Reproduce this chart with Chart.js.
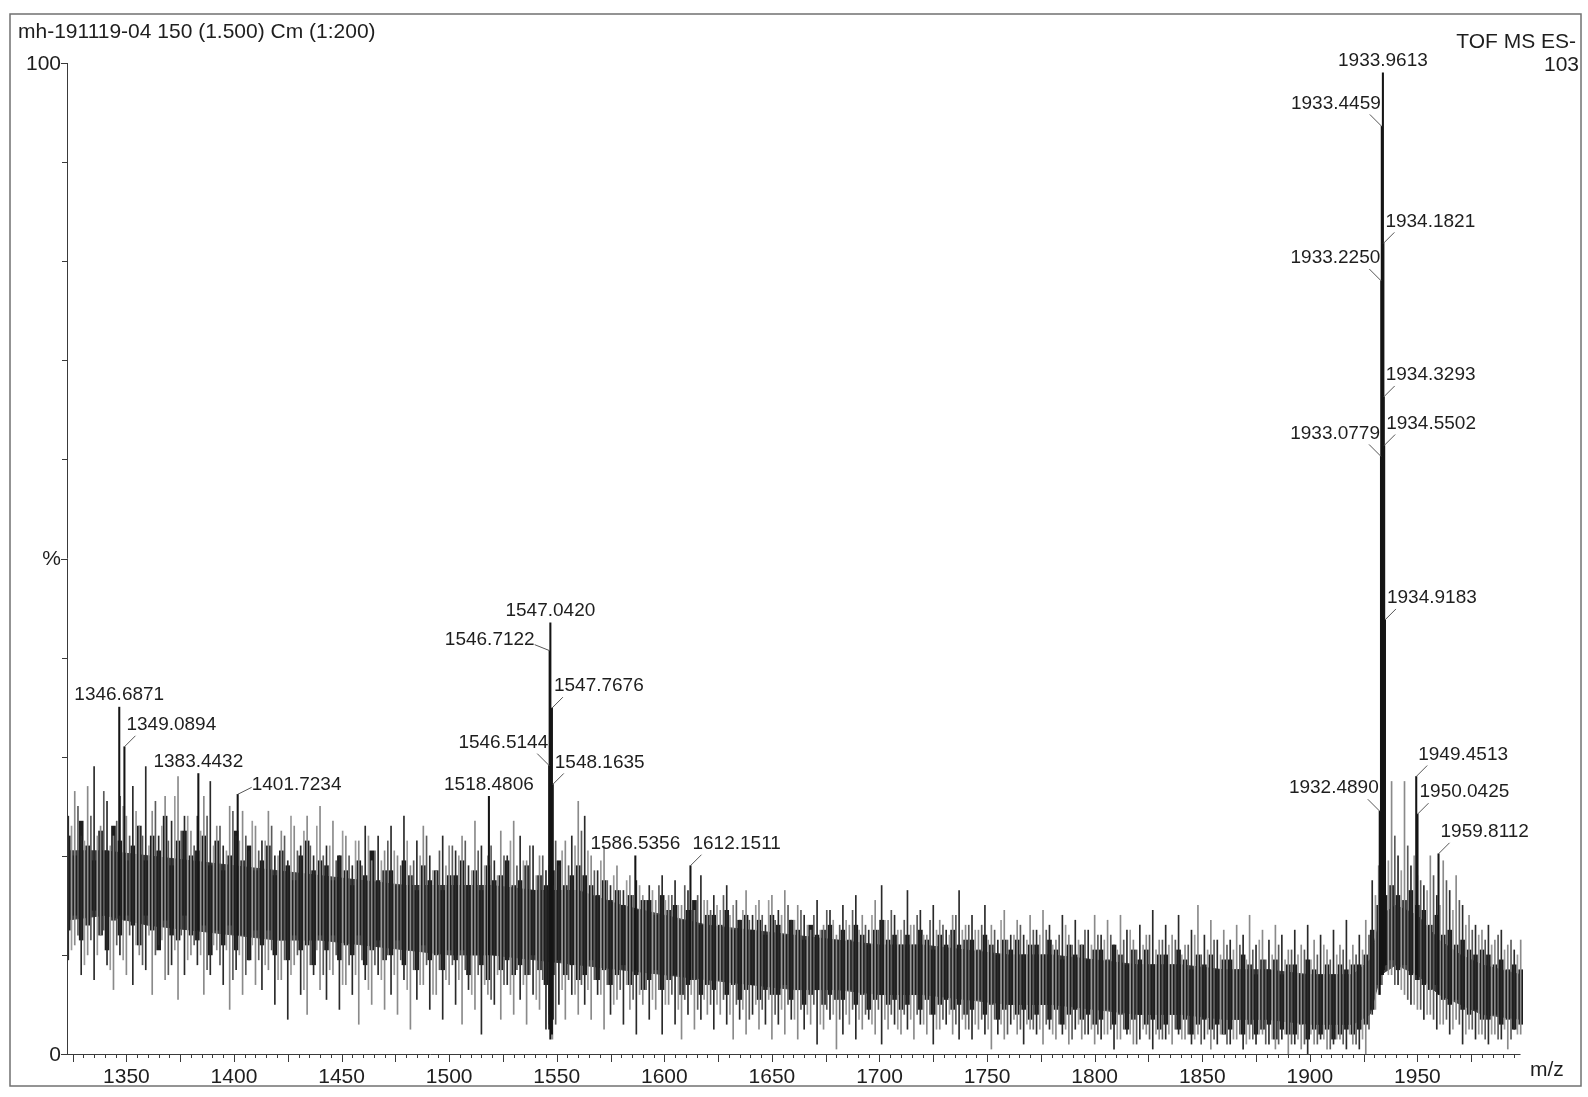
<!DOCTYPE html>
<html>
<head>
<meta charset="utf-8">
<title>mh-191119-04 150 (1.500) Cm (1:200)</title>
<script src="https://cdn.jsdelivr.net/npm/chart.js@4.4.1/dist/chart.umd.min.js"></script>
<style>
    html, body { margin: 0; padding: 0; background: #ffffff; }
    #spectrum { display: block; }
</style>
</head>
<body>
<canvas id="spectrum" width="1588" height="1097"></canvas>
<script>
/* Spectrum data: m/z and relative intensity (%) */

// labelled peaks (top of the trace, and the valley the trace rises from)
let peakMz = [1346.6871, 1349.0894, 1383.4432, 1401.7234, 1518.4806, 1546.5144, 1546.7122, 1547.0420,
    1547.7676, 1548.1635, 1586.5356, 1612.1511, 1932.4890, 1933.0779, 1933.2250, 1933.4459,
    1933.9613, 1934.1821, 1934.3293, 1934.5502, 1934.9183, 1949.4513, 1950.0425, 1959.8112]
let peakPct = [35.0, 31.0, 28.3, 26.2, 26.0, 29.1, 40.7, 43.5,
    34.9, 27.2, 20.0, 19.0, 24.5, 60.3, 78.0, 93.6,
    99.0, 81.8, 66.3, 61.4, 43.8, 28.0, 24.2, 20.2]
let peakBase = [14, 13.5, 12.5, 12, 10, 2.5, 3, 1.5,
    2, 3.5, 8.5, 7.5, 6, 8, 8, 8,
    8, 8.5, 8.5, 9, 9, 8, 7.5, 6]

// noise trace lines: low and high end of each line
let noiseMz = [
    1323, 1326, 1329, 1332, 1335, 1338, 1341, 1344, 1347, 1350,
    1353, 1356, 1359, 1362, 1365, 1368, 1371, 1374, 1377, 1380,
    1383, 1386, 1389, 1392, 1395, 1398, 1401, 1404, 1407, 1410,
    1413, 1416, 1419, 1422, 1425, 1428, 1431, 1434, 1437, 1440,
    1443, 1446, 1449, 1452, 1455, 1458, 1461, 1464, 1467, 1470,
    1473, 1476, 1479, 1482, 1485, 1488, 1491, 1494, 1497, 1500,
    1503, 1506, 1509, 1512, 1515, 1518, 1521, 1524, 1527, 1530,
    1533, 1536, 1539, 1542, 1545, 1548, 1551, 1554, 1557, 1560,
    1563, 1566, 1569, 1572, 1575, 1578, 1581, 1584, 1587, 1590,
    1593, 1596, 1599, 1602, 1605, 1608, 1611, 1614, 1617, 1620,
    1623, 1626, 1629, 1632, 1635, 1638, 1641, 1644, 1647, 1650,
    1653, 1656, 1659, 1662, 1665, 1668, 1671, 1674, 1677, 1680,
    1683, 1686, 1689, 1692, 1695, 1698, 1701, 1704, 1707, 1710,
    1713, 1716, 1719, 1722, 1725, 1728, 1731, 1734, 1737, 1740,
    1743, 1746, 1749, 1752, 1755, 1758, 1761, 1764, 1767, 1770,
    1773, 1776, 1779, 1782, 1785, 1788, 1791, 1794, 1797, 1800,
    1803, 1806, 1809, 1812, 1815, 1818, 1821, 1824, 1827, 1830,
    1833, 1836, 1839, 1842, 1845, 1848, 1851, 1854, 1857, 1860,
    1863, 1866, 1869, 1872, 1875, 1878, 1881, 1884, 1887, 1890,
    1893, 1896, 1899, 1902, 1905, 1908, 1911, 1914, 1917, 1920,
    1923, 1926, 1929, 1932, 1935, 1938, 1941, 1944, 1947, 1950,
    1953, 1956, 1959, 1962, 1965, 1968, 1971, 1974, 1977, 1980,
    1983, 1986, 1989, 1992, 1995, 1998]
let noiseHigh = [
    24, 26.5, 22, 27, 29, 23, 25.5, 22, 26, 24,
    27, 23, 29, 24.5, 22, 26, 23.5, 28, 24, 22.5,
    24, 26, 27.5, 23, 21, 25, 22, 24.5, 20.5, 23,
    21.5, 24.5, 20, 22.5, 19.5, 23, 21, 24, 20, 25,
    21, 23.5, 20, 22, 19, 21.5, 23, 19.5, 22, 20.5,
    23, 20, 24, 19, 21.5, 23, 20, 18.5, 22, 21,
    20.5, 22, 19, 23.5, 21, 20, 19.5, 22.5, 20, 23.5,
    22, 19.5, 21, 20, 18.5, 17, 19, 21.5, 22, 25.5,
    24, 20, 18.5, 21, 17, 19, 16.5, 18, 17.5, 16,
    17, 15.5, 18, 16, 17.5, 15, 16.5, 14.5, 18, 15.5,
    16, 14.5, 17, 15, 13.5, 16.5, 14, 15.5, 13, 16,
    14.5, 16.5, 13.5, 15, 14, 12.5, 15.5, 13, 14.5, 12,
    15, 13, 16, 14, 12.5, 15.5, 17, 13.5, 14, 12.5,
    16.5, 13, 14.5, 12, 15, 13.5, 12.5, 14, 16.5, 13,
    14, 12.5, 15, 13, 11.5, 14.5, 12, 13.5, 12, 14,
    12.5, 14.5, 13, 11.5, 14, 12, 13.5, 11, 12.5, 14,
    12, 13.5, 11, 14, 12.5, 11.5, 13, 12, 14.5, 11.5,
    13, 12, 14, 11, 12.5, 15, 12, 13.5, 11.5, 12.5,
    11.5, 13, 12, 14, 11, 12.5, 11.5, 13, 12, 10.5,
    12.5, 11, 13, 11.5, 12, 10.5, 12.5, 11, 13.5, 11,
    12, 13.5, 17.5, 19, 20, 27.5, 20, 27.5, 19, 18,
    17, 20, 16, 19.5, 16.5, 18, 15, 14, 13, 12.5,
    13, 11.5, 12.5, 11, 10.5, 11.5]
let noiseLow = [
    9.5, 11, 8, 10, 7.5, 12, 9, 6.5, 10, 8,
    7, 10, 8.5, 6, 11, 7.5, 9, 5.5, 8, 10,
    9, 6, 8, 10.5, 7, 4.5, 8.5, 6, 9.5, 7,
    6.5, 8.5, 5, 7.5, 3.5, 9, 6, 4, 8, 6.5,
    5.5, 8, 4.5, 7, 6, 3, 7.5, 5, 8, 4.5,
    6, 4, 7.5, 2.5, 5.5, 7, 4.5, 6, 3.5, 7,
    5, 3, 6.5, 4.5, 2, 6, 5, 3.5, 7, 4,
    5.5, 3, 6, 4.5, 2.5, 1.5, 5, 3.5, 6, 4,
    5, 3.5, 6, 2.5, 4, 5.5, 3, 4.5, 2, 5,
    3.5, 4.5, 2, 5, 3, 1.5, 4, 2.5, 3.5, 4,
    2.5, 4, 3, 1.5, 3.5, 2, 4, 2.5, 3, 1.5,
    3, 2, 3.5, 1.5, 2.5, 3, 1, 2.5, 3.5, 0.5,
    2, 3, 1.5, 2.5, 3.5, 2, 1, 2.5, 3, 2,
    2.5, 1.5, 3, 2, 1, 2.5, 3, 2, 1.5, 2.5,
    1.5, 2.5, 2, 0.5, 2, 1.5, 3, 2, 1, 2.5,
    2, 1, 2.5, 1.5, 2, 1, 2.5, 1.5, 2, 1,
    1.5, 2, 0.5, 1.5, 2, 1, 1.5, 2, 0.5, 1.5,
    1.5, 1, 2, 1.5, 1, 2, 1.5, 0.5, 1, 2,
    1, 1.5, 0.5, 1.5, 1, 2, 1, 0.5, 1.5, 0,
    1, 0.5, 0, 1, 1.5, 0.5, 1, 1.5, 0.5, 1,
    0.5, 0, 4, 6, 9, 8, 7, 6, 5, 4.5,
    3.5, 4, 2.5, 3, 2, 3.5, 1, 2.5, 1.5, 2,
    1, 2, 1.5, 0.5, 2.5, 2]

// dense part of the trace round each noise line
let denseHigh = [
    22, 20, 23.5, 21, 19.5, 22.5, 20.5, 23, 21.5, 19.5,
    21, 23, 19.5, 22, 20.5, 24, 19, 21.5, 22.5, 20,
    20.5, 22, 19, 21.5, 18.5, 20, 22.5, 19.5, 21, 18.5,
    19.5, 21, 18, 20.5, 19, 17.5, 20, 21.5, 18.5, 19.5,
    19, 17.5, 20, 18.5, 17, 19.5, 18, 20.5, 17.5, 18.5,
    18.5, 17, 19.5, 18, 16.5, 19, 17.5, 18.5, 16.5, 18,
    18, 19.5, 17, 18.5, 16.5, 19, 17.5, 18, 19.5, 17,
    17.5, 19, 16.5, 18, 17, 18.5, 19.5, 17, 18, 19,
    18, 17, 16, 17.5, 15.5, 16.5, 15, 16, 14.5, 15.5,
    15.5, 14, 16, 14.5, 15, 13.5, 14.5, 15.5, 13, 14,
    14, 13, 14.5, 12.5, 13.5, 14, 12.5, 13.5, 12, 14,
    13, 12, 13.5, 12.5, 11.5, 13, 12, 12.5, 13, 11.5,
    12.5, 11.5, 13, 12, 11, 12.5, 13.5, 11.5, 12, 11,
    12, 11, 12.5, 11.5, 10.5, 12, 11, 12.5, 11, 11.5,
    11.5, 10.5, 12, 11, 10, 11.5, 10.5, 11.5, 10, 11,
    11, 10, 11.5, 10.5, 9.5, 11, 10, 11, 9.5, 10.5,
    10.5, 9.5, 11, 10, 9, 10.5, 9.5, 10.5, 9, 10,
    10, 9, 10.5, 9.5, 8.5, 10, 9, 10, 8.5, 9.5,
    9.5, 8.5, 10, 9, 8, 9.5, 8.5, 9.5, 8, 9,
    9, 8, 9.5, 8.5, 8, 9, 8, 9, 8.5, 9,
    9, 10, 12.5, 15, 16, 17, 16, 15.5, 16.5, 15,
    14.5, 13, 14, 12, 12.5, 11, 11.5, 10.5, 10, 10.5,
    10, 9, 9.5, 8.5, 9, 8.5]
let denseLow = [
    12.5, 14, 11.5, 13, 14.5, 12, 10.5, 13.5, 12, 14,
    13, 11, 14, 12.5, 10.5, 13.5, 12, 11.5, 14, 12,
    11.5, 13, 10, 12.5, 11, 13, 10.5, 12, 9.5, 12.5,
    11, 12.5, 10, 11.5, 9.5, 12, 10.5, 11, 9, 12,
    10.5, 12, 9.5, 11, 10, 12, 9, 10.5, 11.5, 9.5,
    10, 11.5, 9, 10.5, 8.5, 11, 9.5, 10, 8.5, 10.5,
    9.5, 10.5, 8, 10, 9, 7.5, 10, 8.5, 9.5, 8,
    9, 8, 10, 8.5, 7, 8, 9.5, 8, 9, 7.5,
    8, 9.5, 7.5, 8.5, 7, 8, 9, 7, 8, 6.5,
    7.5, 8.5, 6.5, 7.5, 8, 6, 7, 7.5, 6, 7,
    6.5, 7.5, 6, 7, 5.5, 6.5, 7, 5.5, 6.5, 6,
    6, 7, 5.5, 6.5, 5, 6, 6.5, 5, 6, 5.5,
    5.5, 6.5, 5, 6, 4.5, 5.5, 6, 5, 5.5, 4.5,
    5, 6, 4.5, 5.5, 4, 5, 5.5, 4.5, 5, 4,
    4.5, 5.5, 4, 5, 3.5, 4.5, 5, 4, 4.5, 3.5,
    4, 5, 3.5, 4.5, 3, 4, 4.5, 3.5, 4, 3,
    3.5, 4.5, 3, 4, 2.5, 3.5, 4, 3, 3.5, 2.5,
    3, 4, 2.5, 3.5, 2, 3, 3.5, 2.5, 3, 2,
    2.5, 3.5, 2, 3, 2, 2.5, 3, 1.5, 2.5, 2,
    2, 3, 1.5, 2.5, 2, 2.5, 1.5, 2, 2.5, 2,
    2.5, 3, 4.5, 7, 9, 9.5, 8.5, 9, 8, 7.5,
    7, 6.5, 7, 5.5, 5, 5.5, 4.5, 4, 4.5, 3.5,
    3.5, 4, 3, 3.5, 2.5, 3]

// trace lines lying between the noise lines above
let midMz = [
    1324.5, 1327.5, 1330.5, 1333.5, 1336.5, 1339.5, 1342.5, 1345.5, 1348.5, 1351.5,
    1354.5, 1357.5, 1360.5, 1363.5, 1366.5, 1369.5, 1372.5, 1375.5, 1378.5, 1381.5,
    1384.5, 1387.5, 1390.5, 1393.5, 1396.5, 1399.5, 1402.5, 1405.5, 1408.5, 1411.5,
    1414.5, 1417.5, 1420.5, 1423.5, 1426.5, 1429.5, 1432.5, 1435.5, 1438.5, 1441.5,
    1444.5, 1447.5, 1450.5, 1453.5, 1456.5, 1459.5, 1462.5, 1465.5, 1468.5, 1471.5,
    1474.5, 1477.5, 1480.5, 1483.5, 1486.5, 1489.5, 1492.5, 1495.5, 1498.5, 1501.5,
    1504.5, 1507.5, 1510.5, 1513.5, 1516.5, 1519.5, 1522.5, 1525.5, 1528.5, 1531.5,
    1534.5, 1537.5, 1540.5, 1543.5, 1546.5, 1549.5, 1552.5, 1555.5, 1558.5, 1561.5,
    1564.5, 1567.5, 1570.5, 1573.5, 1576.5, 1579.5, 1582.5, 1585.5, 1588.5, 1591.5,
    1594.5, 1597.5, 1600.5, 1603.5, 1606.5, 1609.5, 1612.5, 1615.5, 1618.5, 1621.5,
    1624.5, 1627.5, 1630.5, 1633.5, 1636.5, 1639.5, 1642.5, 1645.5, 1648.5, 1651.5,
    1654.5, 1657.5, 1660.5, 1663.5, 1666.5, 1669.5, 1672.5, 1675.5, 1678.5, 1681.5,
    1684.5, 1687.5, 1690.5, 1693.5, 1696.5, 1699.5, 1702.5, 1705.5, 1708.5, 1711.5,
    1714.5, 1717.5, 1720.5, 1723.5, 1726.5, 1729.5, 1732.5, 1735.5, 1738.5, 1741.5,
    1744.5, 1747.5, 1750.5, 1753.5, 1756.5, 1759.5, 1762.5, 1765.5, 1768.5, 1771.5,
    1774.5, 1777.5, 1780.5, 1783.5, 1786.5, 1789.5, 1792.5, 1795.5, 1798.5, 1801.5,
    1804.5, 1807.5, 1810.5, 1813.5, 1816.5, 1819.5, 1822.5, 1825.5, 1828.5, 1831.5,
    1834.5, 1837.5, 1840.5, 1843.5, 1846.5, 1849.5, 1852.5, 1855.5, 1858.5, 1861.5,
    1864.5, 1867.5, 1870.5, 1873.5, 1876.5, 1879.5, 1882.5, 1885.5, 1888.5, 1891.5,
    1894.5, 1897.5, 1900.5, 1903.5, 1906.5, 1909.5, 1912.5, 1915.5, 1918.5, 1921.5,
    1924.5, 1927.5, 1930.5, 1933.5, 1936.5, 1939.5, 1942.5, 1945.5, 1948.5, 1951.5,
    1954.5, 1957.5, 1960.5, 1963.5, 1966.5, 1969.5, 1972.5, 1975.5, 1978.5, 1981.5,
    1984.5, 1987.5, 1990.5, 1993.5, 1996.5]
let midHigh = [
    23, 25, 21.5, 24, 22, 26.5, 21, 23.5, 25, 22,
    24.5, 22, 21, 25.5, 23, 21.5, 26, 22.5, 24, 21,
    22.5, 24, 21, 23, 20.5, 24.5, 21.5, 22, 23.5, 20.5,
    21.5, 23, 20, 22, 24, 20.5, 22.5, 21, 23, 20,
    21, 19.5, 22.5, 20, 21.5, 19, 22, 20.5, 19.5, 21.5,
    20.5, 19, 21.5, 19.5, 20, 22, 18.5, 20.5, 19, 21,
    20, 21.5, 18.5, 20.5, 19, 21, 18, 20, 21.5, 19,
    19.5, 21, 18, 20, 19, 21.5, 20.5, 19, 21, 22.5,
    20.5, 18.5, 19.5, 17.5, 18, 16.5, 17.5, 16, 17, 15.5,
    16.5, 17, 15.5, 16, 15, 17, 14.5, 16, 15.5, 14.5,
    15, 16, 14, 15.5, 14.5, 13.5, 15, 14, 15.5, 13.5,
    14, 15, 13.5, 14.5, 13, 14, 12.5, 14.5, 13.5, 13,
    13.5, 14.5, 12.5, 13, 14, 12.5, 13.5, 14.5, 12.5, 13.5,
    13, 14, 12, 13.5, 12.5, 13, 12, 14, 12.5, 13,
    12.5, 13, 11.5, 12.5, 13.5, 11.5, 12, 13, 11.5, 12.5,
    12, 12.5, 11, 12, 13, 11, 11.5, 12.5, 11, 12,
    11.5, 12, 10.5, 11.5, 12.5, 10.5, 11, 12, 10.5, 11.5,
    11, 11.5, 10, 11, 12, 10, 10.5, 11.5, 10, 11,
    10.5, 11, 9.5, 10.5, 11.5, 9.5, 10, 11, 9.5, 10.5,
    10, 10.5, 9.5, 10, 11, 9.5, 10, 10.5, 9.5, 10,
    10.5, 12, 16, 18, 19.5, 22, 18.5, 21, 20, 17.5,
    16.5, 18, 15, 17.5, 14.5, 15.5, 13, 12.5, 12, 11.5,
    11, 12, 10.5, 11.5, 10]
let midLow = [
    10.5, 12, 9, 11.5, 10, 12.5, 8.5, 11, 9.5, 12,
    11, 9, 12, 10, 11.5, 8, 10.5, 12, 9.5, 11,
    10, 8.5, 11, 9, 10.5, 7.5, 10, 8, 11, 9.5,
    9, 10.5, 7.5, 9.5, 8, 10, 6.5, 9, 10.5, 8,
    8.5, 10, 7, 9, 8, 9.5, 6.5, 9, 7.5, 10,
    8, 9.5, 6.5, 8.5, 7, 9, 6, 8.5, 7.5, 9,
    7.5, 8.5, 6, 8, 7, 5.5, 8, 7, 6, 8.5,
    7, 8, 5.5, 7.5, 4, 3, 6.5, 7.5, 6, 7,
    6.5, 7.5, 6, 7, 5, 6.5, 7, 5.5, 6, 6.5,
    5.5, 6.5, 5, 6, 4.5, 5.5, 6, 4.5, 5.5, 5,
    5, 5.5, 4, 5, 4.5, 3.5, 5, 4.5, 5.5, 4,
    4.5, 5, 3.5, 4.5, 4, 5, 3, 4.5, 4, 3.5,
    4, 4.5, 3.5, 4, 3, 4.5, 3.5, 4, 2.5, 4,
    3.5, 4, 3, 4, 2.5, 3.5, 4, 3, 3.5, 2.5,
    3, 3.5, 2.5, 3.5, 3, 2, 3.5, 2.5, 3, 2.5,
    2.5, 3, 2, 3, 2.5, 1.5, 3, 2, 2.5, 2,
    2, 2.5, 1.5, 2.5, 2, 1, 2.5, 1.5, 2, 1.5,
    2, 2.5, 1.5, 2, 1.5, 1, 2, 1.5, 2, 1,
    1.5, 2, 1, 1.5, 2, 1, 1.5, 1, 2, 1,
    1.5, 1, 2, 1, 1.5, 0.5, 1.5, 1, 2, 1,
    1.5, 2.5, 4.5, 7, 8, 7, 6.5, 5.5, 5, 4.5,
    4, 3.5, 3, 3.5, 2.5, 3, 2, 2.5, 2, 1.5,
    2, 1.5, 2.5, 1.5, 2]

// solid band behind the dense trace
let coreMz = [1322, 1340, 1360, 1380, 1400, 1420, 1440, 1460, 1480, 1500,
    1520, 1540, 1560, 1580, 1600, 1620, 1640, 1660, 1680, 1700,
    1720, 1740, 1760, 1780, 1800, 1820, 1840, 1860, 1880, 1900,
    1920, 1928, 1933, 1940, 1950, 1960, 1970, 1980, 1998]
let coreTop = [20.5, 20.5, 20, 19.5, 19, 18.5, 18, 17.5, 17, 17,
    17, 16.5, 16.5, 15, 14, 13, 12.5, 12, 11.5, 11,
    11, 10.5, 10, 10, 9.5, 9, 9, 8.5, 8.5, 8,
    8, 9.5, 14, 15, 14, 11.5, 10, 9, 8]
let coreBottom = [13.5, 14, 13, 12.5, 12, 11.5, 11.5, 11, 10.5, 10,
    10, 9.5, 9, 8.5, 8, 7.5, 7, 6.5, 6.5, 6,
    6, 5.5, 5, 5, 4.5, 4, 4, 3.5, 3.5, 3,
    3, 4, 8, 9, 8, 6, 5, 4, 3.5]

// axis ticks
let xMin = 1322.4
let xMax = 2000
let xMinorTicks = [1325, 1330, 1335, 1340, 1345, 1350, 1355, 1360, 1365, 1370, 1375, 1380, 1385, 1390, 1395,
    1400, 1405, 1410, 1415, 1420, 1425, 1430, 1435, 1440, 1445, 1450, 1455, 1460, 1465, 1470, 1475,
    1480, 1485, 1490, 1495, 1500, 1505, 1510, 1515, 1520, 1525, 1530, 1535, 1540, 1545, 1550, 1555,
    1560, 1565, 1570, 1575, 1580, 1585, 1590, 1595, 1600, 1605, 1610, 1615, 1620, 1625, 1630, 1635,
    1640, 1645, 1650, 1655, 1660, 1665, 1670, 1675, 1680, 1685, 1690, 1695, 1700, 1705, 1710, 1715,
    1720, 1725, 1730, 1735, 1740, 1745, 1750, 1755, 1760, 1765, 1770, 1775, 1780, 1785, 1790, 1795,
    1800, 1805, 1810, 1815, 1820, 1825, 1830, 1835, 1840, 1845, 1850, 1855, 1860, 1865, 1870, 1875,
    1880, 1885, 1890, 1895, 1900, 1905, 1910, 1915, 1920, 1925, 1930, 1935, 1940, 1945, 1950, 1955,
    1960, 1965, 1970, 1975, 1980, 1985, 1990, 1995]
let xMajorTicks = [1325, 1350, 1375, 1400, 1425, 1450, 1475, 1500, 1525, 1550, 1575, 1600, 1625, 1650,
    1675, 1700, 1725, 1750, 1775, 1800, 1825, 1850, 1875, 1900, 1925, 1950, 1975]
let xTickLabels = [1350, 1400, 1450, 1500, 1550, 1600, 1650, 1700, 1750, 1800, 1850, 1900, 1950]
let yTicks = [0, 10, 20, 30, 40, 50, 60, 70, 80, 90, 100]
let yTickLabels = { 0: '0', 50: '%', 100: '100' }

/* where each peak label sits: [textAlign, text dx, text dy, leader dx, leader dy] */
let C = ['center', 0, -12, 0, 0]
let L = ['right', -1, -23, -12, -12]
let R = ['left', 2, -22, 11, -11]
let labelPlace = [C, R, C, ['left', 14, -10, 14, -7], C, L, ['right', -15, -11, -15, -6], C,
    R, R, C, R, L, L, L, L,
    C, R, R, R, R, R, R, R]

let font = '"Liberation Sans", Arial, sans-serif'
let ink = '#1e1e1e'

// axes, ticks, peak labels and the page frame
let spectrumDecor = {
    id: 'spectrumDecor',
    afterDatasetsDraw(chart) {
        let ctx = chart.ctx
        let x = chart.scales.x
        let y = chart.scales.y
        let area = chart.chartArea
        ctx.save()

        // frame round the page
        ctx.strokeStyle = '#707070'
        ctx.lineWidth = 1.5
        ctx.strokeRect(10, 14, 1571, 1072)

        ctx.strokeStyle = '#3a3a3a'
        ctx.lineWidth = 1
        ctx.beginPath()
        // y axis
        ctx.moveTo(area.left + 0.5, y.getPixelForValue(100))
        ctx.lineTo(area.left + 0.5, y.getPixelForValue(0))
        // x axis
        ctx.moveTo(area.left, y.getPixelForValue(0) + 0.5)
        ctx.lineTo(x.getPixelForValue(1997) + 2, y.getPixelForValue(0) + 0.5)
        yTicks.forEach(function (v) {
            let py = Math.round(y.getPixelForValue(v)) + 0.5
            let len = (v % 50 === 0) ? 6 : 5
            ctx.moveTo(area.left - len, py)
            ctx.lineTo(area.left, py)
        })
        let axisY = y.getPixelForValue(0)
        xMinorTicks.forEach(function (v) {
            let px = Math.round(x.getPixelForValue(v)) + 0.5
            let len = xMajorTicks.includes(v) ? 8 : 4
            ctx.moveTo(px, axisY)
            ctx.lineTo(px, axisY + len)
        })
        ctx.stroke()

        ctx.fillStyle = ink
        ctx.font = '21px ' + font
        ctx.textBaseline = 'middle'
        ctx.textAlign = 'center'
        xTickLabels.forEach(function (v) {
            ctx.fillText(String(v), x.getPixelForValue(v), axisY + 23)
        })
        ctx.textAlign = 'left'
        ctx.fillText('m/z', 1530, axisY + 16)

        ctx.textAlign = 'right'
        yTicks.forEach(function (v) {
            if (yTickLabels[v] !== undefined) {
                ctx.fillText(yTickLabels[v], area.left - 6, y.getPixelForValue(v) + 1)
            }
        })

        // header texts
        ctx.textAlign = 'left'
        ctx.fillText('mh-191119-04 150 (1.500) Cm (1:200)', 18, 32)
        ctx.textAlign = 'right'
        ctx.fillText('TOF MS ES-', 1576, 42)
        ctx.fillText('103', 1579, 65)

        // peak labels with their leader lines
        ctx.font = '19px ' + font
        ctx.strokeStyle = '#555555'
        peakMz.forEach(function (m, i) {
            let px = x.getPixelForValue(m)
            let py = y.getPixelForValue(peakPct[i])
            let p = labelPlace[i]
            if (p[3] !== 0 || p[4] !== 0) {
                ctx.beginPath()
                ctx.moveTo(px, py)
                ctx.lineTo(px + p[3], py + p[4])
                ctx.stroke()
            }
            ctx.textAlign = p[0]
            ctx.fillText(m.toFixed(4), px + p[1], py + p[2])
        })
        ctx.restore()
    }
}

let coreTopData = coreMz.map(function (m, i) { return { x: m, y: coreTop[i] } })
let coreBottomData = coreMz.map(function (m, i) { return { x: m, y: coreBottom[i] } })
let denseData = noiseMz.map(function (m, i) { return { x: m, y: [denseLow[i], denseHigh[i]] } })
let midData = midMz.map(function (m, i) { return { x: m, y: [midLow[i], midHigh[i]] } })
let spikeData = noiseMz.map(function (m, i) { return { x: m, y: [noiseLow[i], noiseHigh[i]] } })
let peakData = peakMz.map(function (m, i) { return { x: m, y: [peakBase[i], peakPct[i]] } })

let spectrumChart = new Chart(document.querySelector('#spectrum').getContext('2d'), {
    type: 'bar',
    data: {
        datasets: [
            {
                type: 'line',
                data: coreTopData,
                borderColor: '#3a3a3a',
                borderWidth: 1,
                backgroundColor: '#3a3a3a',
                pointRadius: 0,
                fill: '+1',
                order: 5
            },
            {
                type: 'line',
                data: coreBottomData,
                borderColor: '#3a3a3a',
                borderWidth: 1,
                pointRadius: 0,
                fill: false,
                order: 5
            },
            {
                data: denseData,
                backgroundColor: '#1d1d1d',
                barThickness: 4,
                grouped: false,
                order: 4
            },
            {
                data: midData,
                backgroundColor: function (c) { return c.dataIndex % 2 ? '#5a5a5a' : '#9a9a9a' },
                barThickness: 1,
                grouped: false,
                order: 3
            },
            {
                data: spikeData,
                backgroundColor: function (c) { return c.dataIndex % 2 ? '#8a8a8a' : '#2a2a2a' },
                barThickness: 1,
                grouped: false,
                order: 2
            },
            {
                data: peakData,
                backgroundColor: '#151515',
                barThickness: 1.4,
                grouped: false,
                order: 1
            }
        ]
    },
    options: {
        responsive: false,
        animation: false,
        devicePixelRatio: 1,
        layout: { padding: { left: 67, top: 63, right: 63, bottom: 43 } },
        scales: {
            x: { type: 'linear', min: xMin, max: xMax, offset: false, display: false },
            y: { min: 0, max: 100, display: false }
        },
        plugins: {
            legend: { display: false },
            tooltip: { enabled: false },
            filler: { propagate: false }
        }
    },
    plugins: [spectrumDecor]
})
</script>
</body>
</html>
